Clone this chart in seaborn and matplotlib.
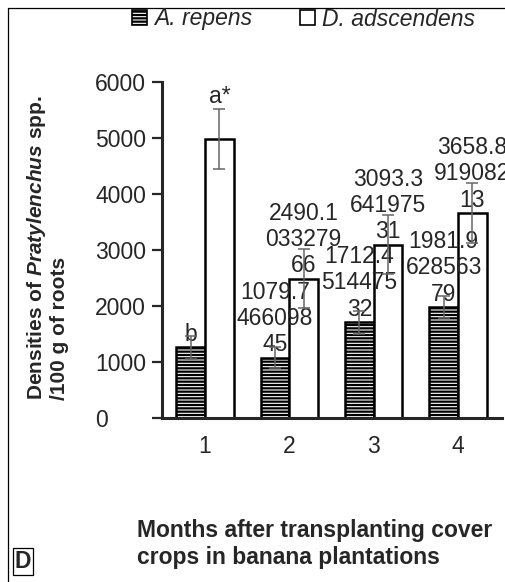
import numpy as np
import pandas as pd
import matplotlib
matplotlib.use('Agg')
import matplotlib.pyplot as plt
import seaborn as sns
from matplotlib.patches import Patch
from matplotlib.lines import Line2D

# data
months = ['1', '2', '3', '4']
species = ['A. repens', 'D. adscendens']
a_repens = [1260, 1079.746609845, 1712.451447532, 1981.962856379]
d_adscendens = [4980, 2490.103327966, 3093.364197531, 3658.891908213]
a_err = [210, 195, 205, 195]
d_err = [530, 525, 525, 540]
a_labels = ['b', '1079.7\n466098\n45', '1712.4\n514475\n32', '1981.9\n628563\n79']
d_labels = ['a*', '2490.1\n033279\n66', '3093.3\n641975\n31', '3658.8\n919082\n13']
yticks = [0, 1000, 2000, 3000, 4000, 5000, 6000]

sns.set_style('ticks')
plt.rcParams['font.family'] = ['Liberation Sans', 'DejaVu Sans']
plt.rcParams['mathtext.fontset'] = 'custom'
plt.rcParams['mathtext.bfit'] = 'Liberation Sans:italic:bold'
plt.rcParams['mathtext.rm'] = 'Liberation Sans:bold'
plt.rcParams['hatch.linewidth'] = 1.6

W, H = 505, 582
fx = lambda p: p / W
fy = lambda p: 1 - p / H
FS = 16.5

df = pd.DataFrame({
    'month': months * 2,
    'species': [species[0]] * 4 + [species[1]] * 4,
    'density': a_repens + d_adscendens,
})

fig = plt.figure(figsize=(W / 100, H / 100), dpi=100)
ax = fig.add_axes([fx(162), fy(418), fx(502) - fx(162), fy(82) - fy(418)])

sns.barplot(data=df, x='month', y='density', hue='species', order=months, hue_order=species,
            palette={species[0]: 'white', species[1]: 'white'}, saturation=1,
            edgecolor='black', linewidth=1.8, width=0.68, gap=0, errorbar=None,
            legend=False, ax=ax)

for bar in ax.containers[0]:
    bar.set_hatch('-----')

for cont, vals, errs, labs in [(ax.containers[0], a_repens, a_err, a_labels),
                               (ax.containers[1], d_adscendens, d_err, d_labels)]:
    xs = [b.get_x() + b.get_width() / 2 for b in cont]
    ax.errorbar(xs, vals, yerr=errs, fmt='none', ecolor='#666666', elinewidth=1.1,
                capsize=4, capthick=1.1, zorder=4)
    for x, v, e, lab in zip(xs, vals, errs, labs):
        y = v + e if lab == 'a*' else v
        ax.annotate(lab, (x, y), xytext=(0, 1), textcoords='offset points',
                    ha='center', va='bottom', fontsize=FS, linespacing=1.18,
                    zorder=3, annotation_clip=False)

ax.set_xlim(-0.51, 3.52)
ax.set_ylim(0, 6000)
ax.set_yticks(yticks)
ax.set_yticklabels([str(t) for t in yticks])
ax.set_xlabel('')
ax.set_ylabel('')
sns.despine(ax=ax)
for s in ['left', 'bottom']:
    ax.spines[s].set_linewidth(2.2)
ax.tick_params(axis='y', direction='out', length=7, width=1.6, labelsize=FS, pad=41)
ax.tick_params(axis='x', length=0, labelsize=FS, pad=12)
plt.setp(ax.get_yticklabels(), ha='left')

# y axis title, two lines
YFS = 15
fig.text(fx(42), fy(400), r'Densities of $\mathbfit{Pratylenchus}$ spp.', rotation=90,
         rotation_mode='anchor', ha='left', va='baseline', fontsize=YFS, fontweight='bold')
fig.text(fx(65), fy(400), '/100 g of roots', rotation=90,
         rotation_mode='anchor', ha='left', va='baseline', fontsize=YFS, fontweight='bold')

# x axis title
fig.text(fx(137), fy(537), 'Months after transplanting cover', ha='left', va='baseline',
         fontsize=FS, fontweight='bold')
fig.text(fx(137), fy(564), 'crops in banana plantations', ha='left', va='baseline',
         fontsize=FS, fontweight='bold')

# panel letter
fig.text(fx(15), fy(568), 'D', ha='left', va='baseline', fontsize=FS, fontweight='bold',
         bbox=dict(boxstyle='square,pad=0.08', facecolor='white', edgecolor='black', linewidth=0.9))

# legend
handles = [Patch(facecolor='white', edgecolor='black', hatch='-----', linewidth=1.2),
           Patch(facecolor='white', edgecolor='black', linewidth=1.2)]
fig.legend(handles, species, loc='center left', bbox_to_anchor=(fx(132), fy(19)), ncol=2,
           frameon=False, borderpad=0, borderaxespad=0, handlelength=0.65, handleheight=0.65,
           handletextpad=0.3, columnspacing=2.1, prop={'style': 'italic', 'size': FS})

# outer frame (cut at right and bottom)
fig.add_artist(Line2D([fx(8), fx(8)], [fy(8), 0], color='black', linewidth=0.9))
fig.add_artist(Line2D([fx(8), 1], [fy(8), fy(8)], color='black', linewidth=0.9))

fig.savefig('out.png', dpi=100)
